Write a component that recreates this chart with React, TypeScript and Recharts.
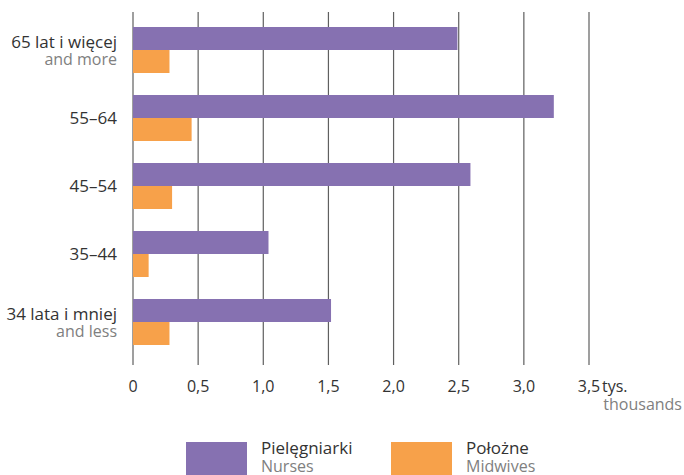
import React from 'react';
import { BarChart, Bar, XAxis, YAxis, CartesianGrid, Legend } from 'recharts';

const groups = ['65 lat i więcej', '55–64', '45–54', '35–44', '34 lata i mniej'];
const groupsEn = ['and more', '', '', '', 'and less'];
const nurses = [2.49, 3.23, 2.59, 1.04, 1.52];
const midwives = [0.28, 0.45, 0.3, 0.12, 0.28];
const xTicks = [0, 0.5, 1, 1.5, 2, 2.5, 3, 3.5];

const PURPLE = '#8671b1';
const ORANGE = '#f7a14a';
const FONT = '"Open Sans", sans-serif';

const data = groups.map((g, i) => ({
  label: g,
  nurses: nurses[i],
  midwives: midwives[i],
}));

const subByLabel: Record<string, string> = {};
groups.forEach((g, i) => (subByLabel[g] = groupsEn[i]));

const fmt = (v: number) => (v === 0 ? '0' : v.toFixed(1).replace('.', ','));

const YTick = (props: any) => {
  const { y, payload } = props;
  const sub = subByLabel[payload.value];
  if (!sub) {
    return (
      <text x={117} y={y} dy={6} textAnchor="end" fontSize={17} fill="#333" fontFamily={FONT}>
        {payload.value}
      </text>
    );
  }
  return (
    <g>
      <text x={117} y={y} dy={-2} textAnchor="end" fontSize={17} fill="#333" fontFamily={FONT}>
        {payload.value}
      </text>
      <text x={117} y={y} dy={15} textAnchor="end" fontSize={16} fill="#808080" fontFamily={FONT}>
        {sub}
      </text>
    </g>
  );
};

const XTick = (props: any) => {
  const { x, payload } = props;
  const last = payload.value === xTicks[xTicks.length - 1];
  return (
    <g>
      <text x={x} y={392} textAnchor="middle" fontSize={16} fill="#333" fontFamily={FONT}>
        {fmt(payload.value)}
      </text>
      {last && (
        <>
          <text x={x + 13} y={392} textAnchor="start" fontSize={16} fill="#333" fontFamily={FONT}>
            tys.
          </text>
          <text x={682} y={410} textAnchor="end" fontSize={16} fill="#808080" fontFamily={FONT}>
            thousands
          </text>
        </>
      )}
    </g>
  );
};

const legendItems = [
  { pl: 'Pielęgniarki', en: 'Nurses', color: PURPLE, x: 186 },
  { pl: 'Położne', en: 'Midwives', color: ORANGE, x: 391 },
];

const LegendContent = () => (
  <div style={{ position: 'relative', width: 684, height: 60, fontFamily: FONT }}>
    {legendItems.map((it) => (
      <div key={it.pl}>
        <div
          style={{
            position: 'absolute',
            left: it.x,
            top: 27,
            width: 61,
            height: 33,
            background: it.color,
          }}
        />
        <div
          style={{
            position: 'absolute',
            left: it.x + 75,
            top: 24,
            fontSize: 17,
            lineHeight: '18px',
            color: '#333',
            whiteSpace: 'nowrap',
          }}
        >
          {it.pl}
          <div style={{ color: '#808080', fontSize: 16 }}>{it.en}</div>
        </div>
      </div>
    ))}
  </div>
);

export default function App() {
  return (
    <div style={{ width: 684, height: 475, position: 'absolute', left: 0, top: 0, overflow: 'hidden' }}>
      <BarChart
        width={684}
        height={475}
        data={data}
        layout="vertical"
        margin={{ top: 12, right: 95, left: 0, bottom: 0 }}
        barSize={23}
        barGap={0}
      >
        <CartesianGrid horizontal={false} vertical stroke="#5f5f5f" strokeWidth={1.2} />
        <XAxis
          type="number"
          domain={[0, 3.5]}
          ticks={xTicks}
          interval={0}
          axisLine={false}
          tickLine={false}
          height={50}
          tick={<XTick />}
        />
        <YAxis
          type="category"
          dataKey="label"
          width={133}
          axisLine={false}
          tickLine={false}
          interval={0}
          padding={{ top: 4, bottom: 9 }}
          tick={<YTick />}
        />
        <Legend
          verticalAlign="bottom"
          content={<LegendContent />}
          wrapperStyle={{ left: 0, bottom: 0, width: 684, height: 60 }}
        />
        <Bar dataKey="nurses" fill={PURPLE} isAnimationActive={false} />
        <Bar dataKey="midwives" fill={ORANGE} isAnimationActive={false} />
      </BarChart>
    </div>
  );
}
